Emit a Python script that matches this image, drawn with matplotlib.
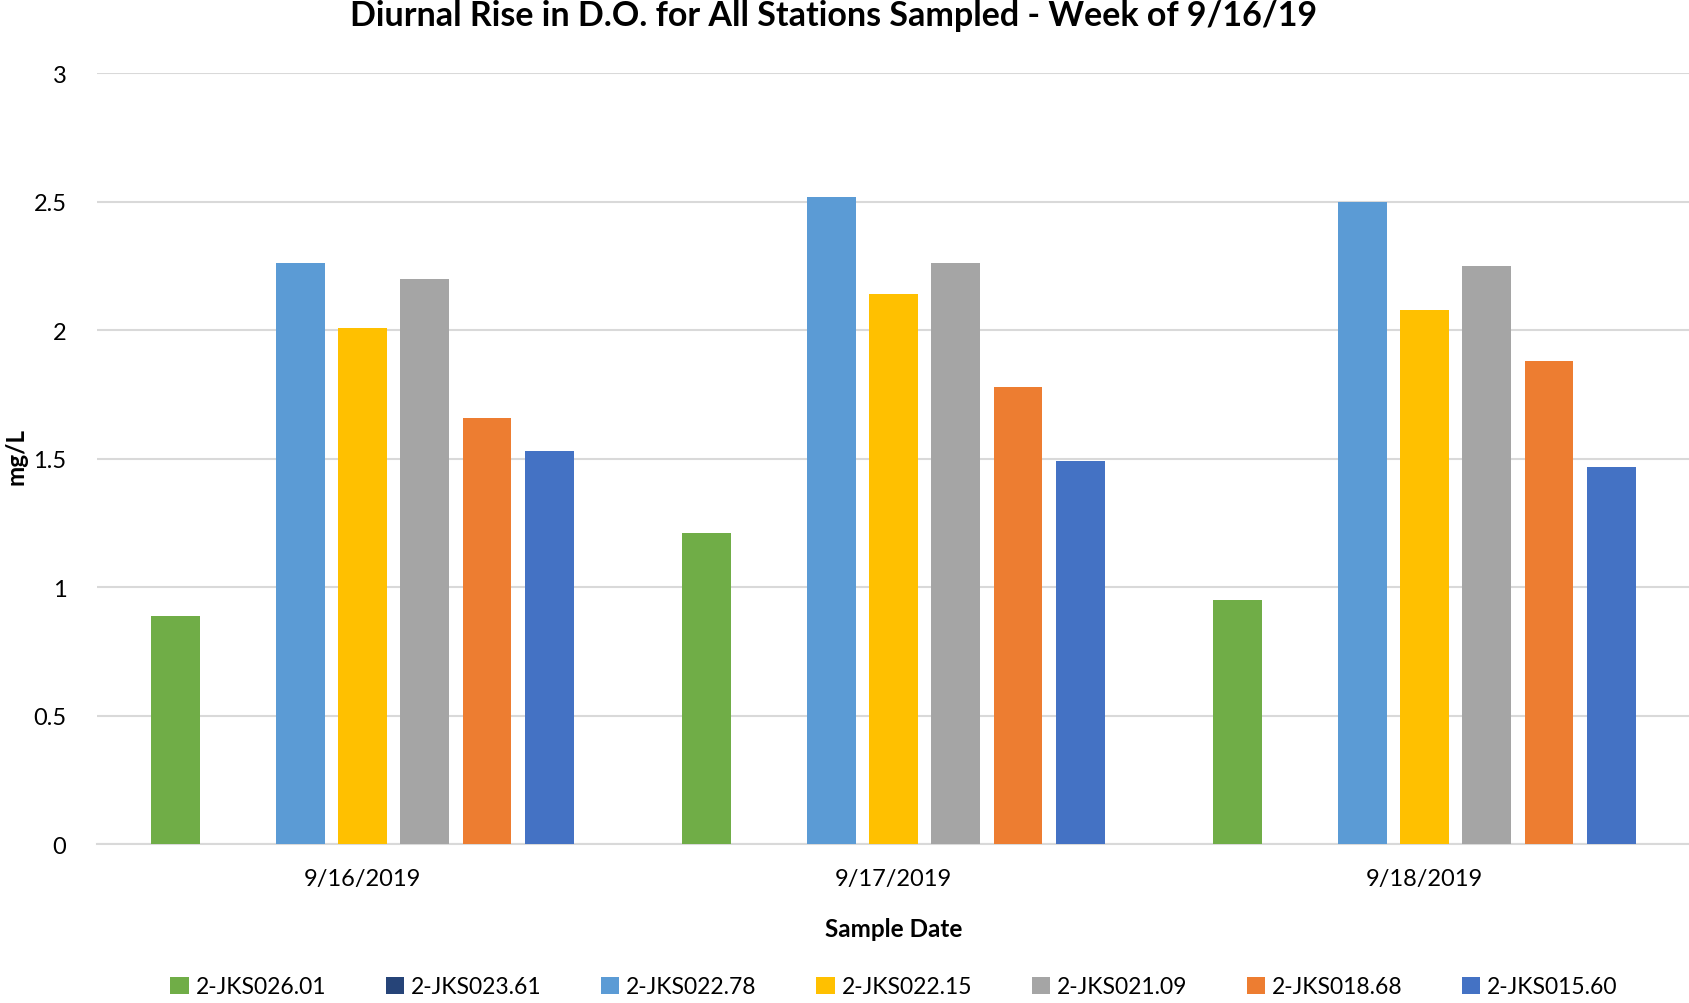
import matplotlib
matplotlib.use("Agg")
import matplotlib.pyplot as plt
from matplotlib.patches import Patch
import numpy as np

plt.rcParams['font.family'] = ['Lato', 'DejaVu Sans']

dates = ['9/16/2019', '9/17/2019', '9/18/2019']
stations = ['2-JKS026.01', '2-JKS023.61', '2-JKS022.78', '2-JKS022.15',
            '2-JKS021.09', '2-JKS018.68', '2-JKS015.60']
colors = ['#70AD47', '#264478', '#5B9BD5', '#FFC000', '#A5A5A5', '#ED7D31', '#4472C4']

# one list per station (None = no data)
jks026_01 = [0.89, 1.21, 0.95]
jks023_61 = [None, None, None]
jks022_78 = [2.26, 2.52, 2.50]
jks022_15 = [2.01, 2.14, 2.08]
jks021_09 = [2.20, 2.26, 2.25]
jks018_68 = [1.66, 1.78, 1.88]
jks015_60 = [1.53, 1.49, 1.47]
series = [jks026_01, jks023_61, jks022_78, jks022_15, jks021_09, jks018_68, jks015_60]

fig = plt.figure(figsize=(16.9, 10.04), dpi=100)
ax = fig.add_axes([0.0574, 0.158, 0.9426, 0.768])

x = np.arange(len(dates))
slot = 0.1173
width = 0.0915
n = len(series)
for i, (vals, c) in enumerate(zip(series, colors)):
    pos = x + (i - (n - 1) / 2) * slot
    v = [np.nan if val is None else val for val in vals]
    ax.bar(pos, v, width=width, color=c, zorder=3)

ax.set_xlim(-0.5, 2.5)
ax.set_ylim(0, 3)
ax.set_yticks([0, 0.5, 1, 1.5, 2, 2.5, 3])
ax.set_yticklabels(['0', '0.5', '1', '1.5', '2', '2.5', '3'])
ax.set_xticks(x)
ax.set_xticklabels(dates)
ax.grid(axis='y', color='#D9D9D9', linewidth=1.5, zorder=0)
for s in ['top', 'right', 'left']:
    ax.spines[s].set_visible(False)
ax.spines['bottom'].set_color('#D9D9D9')
ax.spines['bottom'].set_linewidth(1.5)
ax.tick_params(axis='both', length=0, labelsize=17, colors='#000000')
ax.tick_params(axis='y', pad=22)
ax.tick_params(axis='x', pad=17)

ax.set_xlabel('Sample Date', fontsize=17.5, fontweight='bold', labelpad=20)
fig.text(0.0095, 0.545, 'mg/L', rotation=90, fontsize=17.5, fontweight='bold',
         ha='center', va='center')
fig.text(0.493, 0.984, 'Diurnal Rise in D.O. for All Stations Sampled - Week of 9/16/19',
         fontsize=24.5, fontweight='bold', ha='center', va='center')

handles = [Patch(facecolor=c, label=s) for s, c in zip(stations, colors)]
fig.legend(handles=handles, loc='center', bbox_to_anchor=(0.529, 0.016), ncol=7,
           frameon=False, fontsize=16.5, handlelength=0.8, handleheight=0.8,
           handletextpad=0.3, columnspacing=2.6)

fig.savefig('out.png', dpi=100)
